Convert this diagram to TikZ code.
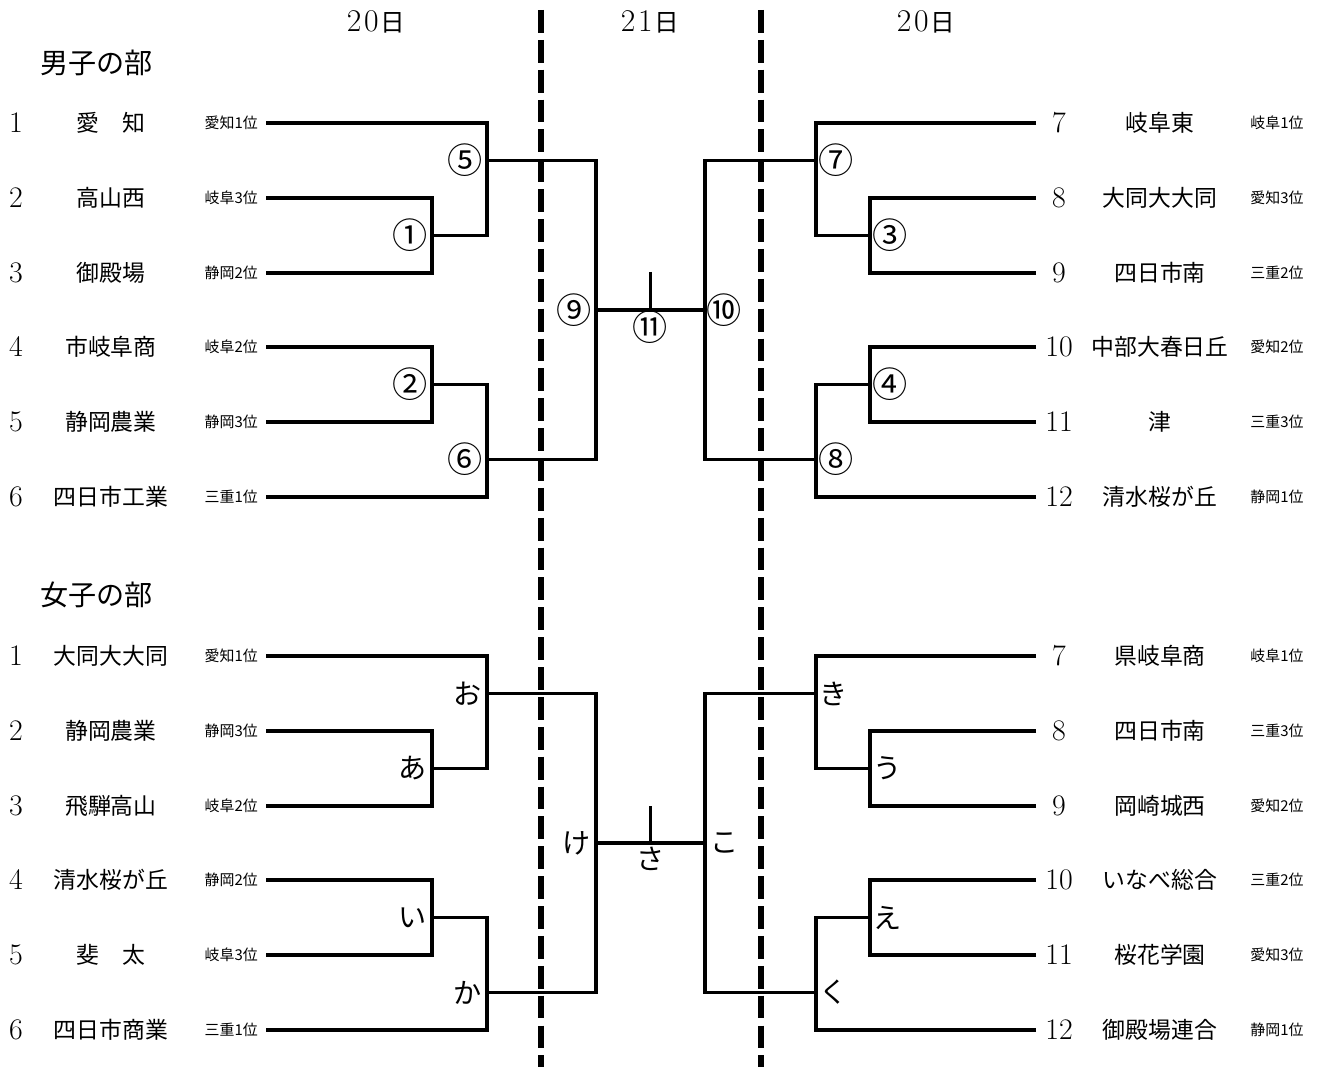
\documentclass[tikz,border=0pt]{standalone}
\usepackage{fontspec}
\newfontfamily\jp{Noto Sans CJK JP}
\usetikzlibrary{positioning}
\newcommand{\dayjp}{{\jp\fontsize{14}{16}\selectfont 日}}
\tikzset{
  bracket/.style={line width=2pt},
  divider/.style={line width=3.4pt,dash pattern=on 13pt off 4pt},
  num/.style={font=\fontsize{17}{19}\selectfont},
  school/.style={font=\jp\fontsize{13}{15}\selectfont},
  rank/.style={font=\jp\fontsize{8.5}{10}\selectfont,inner xsep=4.5pt},
  rnd/.style={font=\jp\fontsize{20}{22}\selectfont,inner sep=0.5pt},
  kana/.style={font=\jp\fontsize{16}{18}\selectfont,inner sep=1pt},
  day/.style={font=\fontsize{18}{20}\selectfont},
  part/.style={font=\jp\fontsize{16}{18}\selectfont,anchor=west},
}

\begin{document}
\begin{tikzpicture}[x=0.02cm,y=-0.02cm]
    \useasboundingbox (0,0) rectangle (1326,1067);

    % headings
    \node (d1) [day] at (376,22) {2\kern1.5pt0\kern1pt\dayjp};
    \node (d2) [day] at (650,22) {2\kern1.5pt1\kern1pt\dayjp};
    \node (d3) [day] at (926,22) {2\kern1.5pt0\kern1pt\dayjp};
    \node (boys)  [part] at (34,63)  {男子の部};
    \node (girls) [part] at (34,595) {女子の部};

    % boys, left
    \node (bn1) [num] at (16,123) {1}; \node (bs1) [school] at (111,123) {愛　知};     \coordinate (bt1) at (266,123); \node (br1) [rank,left=0pt of bt1] {愛知1位};
    \node (bn2) [num] at (16,198) {2}; \node (bs2) [school] at (111,198) {高山西};     \coordinate (bt2) at (266,198); \node (br2) [rank,left=0pt of bt2] {岐阜3位};
    \node (bn3) [num] at (16,273) {3}; \node (bs3) [school] at (111,273) {御殿場};     \coordinate (bt3) at (266,273); \node (br3) [rank,left=0pt of bt3] {静岡2位};
    \node (bn4) [num] at (16,347) {4}; \node (bs4) [school] at (111,347) {市岐阜商};   \coordinate (bt4) at (266,347); \node (br4) [rank,left=0pt of bt4] {岐阜2位};
    \node (bn5) [num] at (16,422) {5}; \node (bs5) [school] at (111,422) {静岡農業};   \coordinate (bt5) at (266,422); \node (br5) [rank,left=0pt of bt5] {静岡3位};
    \node (bn6) [num] at (16,497) {6}; \node (bs6) [school] at (111,497) {四日市工業}; \coordinate (bt6) at (266,497); \node (br6) [rank,left=0pt of bt6] {三重1位};

    % boys, right
    \coordinate (bt7)  at (1036,123); \node (bn7)  [num] at (1059,123) {7};  \node (bs7)  [school] at (1160,123) {岐阜東};       \node (br7)  [rank] at (1277,123) {岐阜1位};
    \coordinate (bt8)  at (1036,198); \node (bn8)  [num] at (1059,198) {8};  \node (bs8)  [school] at (1160,198) {大同大大同};   \node (br8)  [rank] at (1277,198) {愛知3位};
    \coordinate (bt9)  at (1036,273); \node (bn9)  [num] at (1059,273) {9};  \node (bs9)  [school] at (1160,273) {四日市南};     \node (br9)  [rank] at (1277,273) {三重2位};
    \coordinate (bt10) at (1036,347); \node (bn10) [num] at (1059,347) {10}; \node (bs10) [school] at (1160,347) {中部大春日丘}; \node (br10) [rank] at (1277,347) {愛知2位};
    \coordinate (bt11) at (1036,422); \node (bn11) [num] at (1059,422) {11}; \node (bs11) [school] at (1160,422) {津};           \node (br11) [rank] at (1277,422) {三重3位};
    \coordinate (bt12) at (1036,497); \node (bn12) [num] at (1059,497) {12}; \node (bs12) [school] at (1160,497) {清水桜が丘};   \node (br12) [rank] at (1277,497) {静岡1位};

    % boys, matches
    \coordinate (bm1) at (432,235.5);
    \coordinate (bm2) at (432,384.5);
    \coordinate (bm5) at (487,160.5);
    \coordinate (bm6) at (487,459.5);
    \coordinate (bm9) at (596,310);
    \coordinate (bm11) at (650.5,310);
    \coordinate (bm11t) at (650.5,272);
    \coordinate (bm10) at (705,310);
    \coordinate (bm7) at (816,160.5);
    \coordinate (bm8) at (816,459.5);
    \coordinate (bm3) at (870,235.5);
    \coordinate (bm4) at (870,384.5);

    \draw[bracket] (bt2) -| (bm1) (bt3) -| (bm1);
    \draw[bracket] (bt4) -| (bm2) (bt5) -| (bm2);
    \draw[bracket] (bt1) -| (bm5) (bm1) -| (bm5);
    \draw[bracket] (bm2) -| (bm6) (bt6) -| (bm6);
    \draw[bracket] (bm5) -| (bm9) (bm6) -| (bm9);
    \draw[bracket] (bm9) -- (bm10) (bm11t) -- (bm11);
    \draw[bracket] (bt8) -| (bm3) (bt9) -| (bm3);
    \draw[bracket] (bt10) -| (bm4) (bt11) -| (bm4);
    \draw[bracket] (bt7) -| (bm7) (bm3) -| (bm7);
    \draw[bracket] (bm4) -| (bm8) (bt12) -| (bm8);
    \draw[bracket] (bm7) -| (bm10) (bm8) -| (bm10);

    \node (bl1)  [rnd,left=2pt of bm1]  {①};
    \node (bl2)  [rnd,left=2pt of bm2]  {②};
    \node (bl5)  [rnd,left=2pt of bm5]  {⑤};
    \node (bl6)  [rnd,left=2pt of bm6]  {⑥};
    \node (bl9)  [rnd,left=2pt of bm9]  {⑨};
    \node (bl11) [rnd,below=0pt of bm11] {⑪};
    \node (bl10) [rnd,right=0pt of bm10] {⑩};
    \node (bl7)  [rnd,right=0.5pt of bm7] {⑦};
    \node (bl8)  [rnd,right=0.5pt of bm8] {⑧};
    \node (bl3)  [rnd,right=0.5pt of bm3] {③};
    \node (bl4)  [rnd,right=0.5pt of bm4] {④};

    % girls, left
    \node (gn1) [num] at (16,656)  {1}; \node (gs1) [school] at (111,656)  {大同大大同}; \coordinate (gt1) at (266,656);  \node (gr1) [rank,left=0pt of gt1] {愛知1位};
    \node (gn2) [num] at (16,731)  {2}; \node (gs2) [school] at (111,731)  {静岡農業};   \coordinate (gt2) at (266,731);  \node (gr2) [rank,left=0pt of gt2] {静岡3位};
    \node (gn3) [num] at (16,806)  {3}; \node (gs3) [school] at (111,806)  {飛騨高山};   \coordinate (gt3) at (266,806);  \node (gr3) [rank,left=0pt of gt3] {岐阜2位};
    \node (gn4) [num] at (16,880)  {4}; \node (gs4) [school] at (111,880)  {清水桜が丘}; \coordinate (gt4) at (266,880);  \node (gr4) [rank,left=0pt of gt4] {静岡2位};
    \node (gn5) [num] at (16,955)  {5}; \node (gs5) [school] at (111,955)  {斐　太};     \coordinate (gt5) at (266,955);  \node (gr5) [rank,left=0pt of gt5] {岐阜3位};
    \node (gn6) [num] at (16,1030) {6}; \node (gs6) [school] at (111,1030) {四日市商業}; \coordinate (gt6) at (266,1030); \node (gr6) [rank,left=0pt of gt6] {三重1位};

    % girls, right
    \coordinate (gt7)  at (1036,656);  \node (gn7)  [num] at (1059,656)  {7};  \node (gs7)  [school] at (1160,656)  {県岐阜商};   \node (gr7)  [rank] at (1277,656)  {岐阜1位};
    \coordinate (gt8)  at (1036,731);  \node (gn8)  [num] at (1059,731)  {8};  \node (gs8)  [school] at (1160,731)  {四日市南};   \node (gr8)  [rank] at (1277,731)  {三重3位};
    \coordinate (gt9)  at (1036,806);  \node (gn9)  [num] at (1059,806)  {9};  \node (gs9)  [school] at (1160,806)  {岡崎城西};   \node (gr9)  [rank] at (1277,806)  {愛知2位};
    \coordinate (gt10) at (1036,880);  \node (gn10) [num] at (1059,880)  {10}; \node (gs10) [school] at (1160,880)  {いなべ総合}; \node (gr10) [rank] at (1277,880)  {三重2位};
    \coordinate (gt11) at (1036,955);  \node (gn11) [num] at (1059,955)  {11}; \node (gs11) [school] at (1160,955)  {桜花学園};   \node (gr11) [rank] at (1277,955)  {愛知3位};
    \coordinate (gt12) at (1036,1030); \node (gn12) [num] at (1059,1030) {12}; \node (gs12) [school] at (1160,1030) {御殿場連合}; \node (gr12) [rank] at (1277,1030) {静岡1位};

    % girls, matches
    \coordinate (gm1) at (432,768.5);
    \coordinate (gm2) at (432,917.5);
    \coordinate (gm5) at (487,693.5);
    \coordinate (gm6) at (487,992.5);
    \coordinate (gm9) at (596,843);
    \coordinate (gm11) at (650.5,843);
    \coordinate (gm11t) at (650.5,806);
    \coordinate (gm10) at (705,843);
    \coordinate (gm7) at (816,693.5);
    \coordinate (gm8) at (816,992.5);
    \coordinate (gm3) at (870,768.5);
    \coordinate (gm4) at (870,917.5);

    \draw[bracket] (gt2) -| (gm1) (gt3) -| (gm1);
    \draw[bracket] (gt4) -| (gm2) (gt5) -| (gm2);
    \draw[bracket] (gt1) -| (gm5) (gm1) -| (gm5);
    \draw[bracket] (gm2) -| (gm6) (gt6) -| (gm6);
    \draw[bracket] (gm5) -| (gm9) (gm6) -| (gm9);
    \draw[bracket] (gm9) -- (gm10) (gm11t) -- (gm11);
    \draw[bracket] (gt8) -| (gm3) (gt9) -| (gm3);
    \draw[bracket] (gt10) -| (gm4) (gt11) -| (gm4);
    \draw[bracket] (gt7) -| (gm7) (gm3) -| (gm7);
    \draw[bracket] (gm4) -| (gm8) (gt12) -| (gm8);
    \draw[bracket] (gm7) -| (gm10) (gm8) -| (gm10);

    \node (gl1)  [kana,left=2pt of gm1]  {あ};
    \node (gl2)  [kana,left=2pt of gm2]  {い};
    \node (gl5)  [kana,left=2pt of gm5]  {お};
    \node (gl6)  [kana,left=2pt of gm6]  {か};
    \node (gl9)  [kana,left=2pt of gm9]  {け};
    \node (gl11) [kana,below=1pt of gm11] {さ};
    \node (gl10) [kana,right=2pt of gm10] {こ};
    \node (gl7)  [kana,right=1pt of gm7] {き};
    \node (gl8)  [kana,right=1pt of gm8] {く};
    \node (gl3)  [kana,right=1pt of gm3] {う};
    \node (gl4)  [kana,right=1pt of gm4] {え};

    % day dividers
    \coordinate (dl1) at (541,10);  \coordinate (dl2) at (541,1067);
    \coordinate (dr1) at (761,10);  \coordinate (dr2) at (761,1067);
    \draw[divider] (dl1) -- (dl2);
    \draw[divider] (dr1) -- (dr2);
\end{tikzpicture}
\end{document}
